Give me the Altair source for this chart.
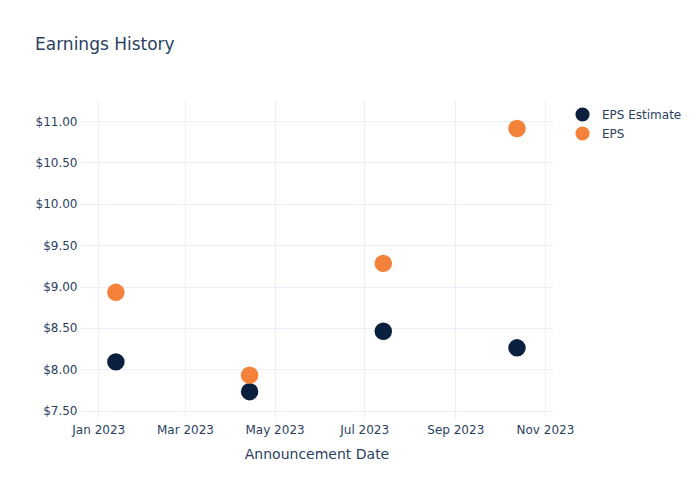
import altair as alt
import pandas as pd

dates = ["2023-01-13T00:00:00", "2023-04-14T00:00:00", "2023-07-14T00:00:00", "2023-10-13T00:00:00"]
eps_estimate = [8.09, 7.73, 8.46, 8.26]
eps_actual = [8.93, 7.93, 9.28, 10.91]
series_names = ["EPS Estimate", "EPS"]
series_colors = ["#0b1f3f", "#f5823a"]
y_ticks = [7.5, 8.0, 8.5, 9.0, 9.5, 10.0, 10.5, 11.0]

rows = []
for d, v in zip(dates, eps_estimate):
    rows.append({"date": d, "value": v, "series": "EPS Estimate", "order": 0})
for d, v in zip(dates, eps_actual):
    rows.append({"date": d, "value": v, "series": "EPS", "order": 1})
df = pd.DataFrame(rows)

FONT = "DejaVu Sans"
TXT = "#2a3f5f"
GRID = "#ebf0f8"

x_ticks = [alt.DateTime(year=2023, month=m, date=1) for m in [1, 3, 5, 7, 9, 11]]

chart = alt.Chart(df).mark_circle(size=305, opacity=1).encode(
    x=alt.X(
        "date:T",
        title="Announcement Date",
        scale=alt.Scale(domain=[alt.DateTime(year=2022, month=12, date=19, hours=14),
                                alt.DateTime(year=2023, month=11, date=6, hours=12)]),
        axis=alt.Axis(values=x_ticks, format="%b %Y", ticks=False, domain=False,
                      gridColor=GRID, labelPadding=6, titlePadding=12,
                      labelFontSize=12, titleFontSize=14, titleFontWeight="normal"),
    ),
    y=alt.Y(
        "value:Q",
        title=None,
        scale=alt.Scale(domain=[7.412, 11.254], nice=False, zero=False),
        axis=alt.Axis(values=y_ticks, format="$.2f", ticks=False, domain=False,
                      gridColor=GRID, labelPadding=3, labelFontSize=12),
    ),
    color=alt.Color(
        "series:N",
        scale=alt.Scale(domain=series_names, range=series_colors),
        legend=alt.Legend(title=None, orient="none", legendX=495, legendY=7,
                          symbolSize=200, symbolType="circle", labelFontSize=12,
                          rowPadding=4, symbolStrokeWidth=0, labelOffset=12),
    ),
    order=alt.Order("order:Q"),
).properties(
    width=473,
    height=318,
    title=alt.TitleParams("Earnings History", anchor="start", offset=46,
                          fontSize=17, fontWeight="normal", color=TXT, font=FONT),
    autosize=alt.AutoSizeParams(type="none"),
    padding={"left": 80, "top": 100, "right": 147, "bottom": 82},
).configure_view(
    stroke=None
).configure_axis(
    labelFont=FONT, titleFont=FONT, labelColor=TXT, titleColor=TXT
).configure_legend(
    labelFont=FONT, labelColor=TXT
)

chart.save("out.html", embed_options={"renderer": "svg", "actions": False})
